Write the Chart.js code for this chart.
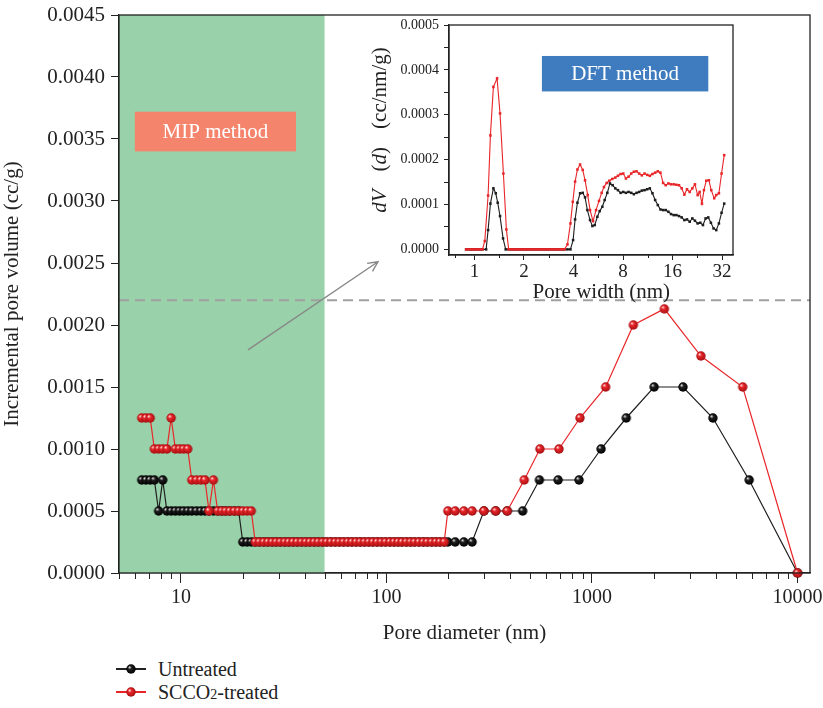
<!DOCTYPE html>
<html>
<head>
<meta charset="utf-8">
<script src="https://cdn.jsdelivr.net/npm/chart.js@4.4.1/dist/chart.umd.min.js"></script>
<style>
  body { margin: 0; background: #fff; font-family: 'Liberation Serif', serif; }
  #wrap { position: relative; width: 823px; height: 708px; overflow: hidden; }
  #main { position: absolute; left: 0; top: 0; }
  #inset { position: absolute; left: 360px; top: 0; }
  .leg { position: absolute; left: 116px; height: 22px; display: flex; align-items: center; font-size: 20px; color: #222; }
  .leg .sym { position: relative; width: 30px; height: 22px; margin-right: 12px; }
  .leg .sym i { position: absolute; left: 0; top: 10px; width: 30px; height: 1.5px; }
  .leg .sym canvas { position: absolute; left: 9px; top: 5px; }
</style>
</head>
<body>
<div id="wrap">
  <canvas id="main" width="823" height="650"></canvas>
  <canvas id="inset" width="390" height="312"></canvas>
  <div class="leg" id="leg1" style="top:658px"><div class="sym"><i style="background:#222"></i></div>Untreated</div>
  <div class="leg" id="leg2" style="top:681px"><div class="sym"><i style="background:#e8262a"></i></div>SCCO<sub style="font-size:14px;position:relative;top:3px">2</sub>-treated</div>
</div>
<script>
// MIP data: low-pressure points shared by both samples (nm)
const mipDiamLow = [6.45, 6.76, 7.09, 7.43, 7.79, 8.16, 8.55, 8.97, 9.40, 9.85, 10.3, 10.8, 11.3, 11.9, 12.5, 13.1,
  13.7, 14.4, 15.1, 15.8, 16.5, 17.3, 18.2, 19.1, 20.0, 21.0, 22.0, 23.0, 24.1, 25.3, 26.5, 27.8, 29.1, 30.5,
  32.0, 33.5, 35.1, 36.8, 38.6, 40.5, 42.4, 44.5, 46.6, 48.9, 51.2, 53.7, 56.3, 59.0, 61.8, 64.8, 67.9, 71.2,
  74.6, 78.2, 82.0, 85.9, 90.1, 94.4, 99.0, 104, 109, 114, 119, 125, 131, 137, 144, 151, 158, 166, 174, 182, 191];
const untreatedLow = [0.00075, 0.00075, 0.00075, 0.00075, 0.0005, 0.00075, 0.0005, 0.0005, 0.0005, 0.0005,
  0.0005, 0.0005, 0.0005, 0.0005, 0.0005, 0.0005, 0.0005, 0.0005, 0.0005, 0.0005, 0.0005, 0.0005, 0.0005, 0.0005,
  0.00025, 0.00025, 0.00025, 0.00025, 0.00025, 0.00025, 0.00025, 0.00025, 0.00025, 0.00025, 0.00025, 0.00025,
  0.00025, 0.00025, 0.00025, 0.00025, 0.00025, 0.00025, 0.00025, 0.00025, 0.00025, 0.00025, 0.00025, 0.00025,
  0.00025, 0.00025, 0.00025, 0.00025, 0.00025, 0.00025, 0.00025, 0.00025, 0.00025, 0.00025, 0.00025, 0.00025,
  0.00025, 0.00025, 0.00025, 0.00025, 0.00025, 0.00025, 0.00025, 0.00025, 0.00025, 0.00025, 0.00025, 0.00025, 0.00025];
const treatedLow = [0.00125, 0.00125, 0.00125, 0.001, 0.001, 0.001, 0.001, 0.00125, 0.001, 0.001, 0.001, 0.001,
  0.00075, 0.00075, 0.00075, 0.00075, 0.0005, 0.00075, 0.0005, 0.0005, 0.0005, 0.0005, 0.0005, 0.0005, 0.0005,
  0.0005, 0.0005, 0.00025, 0.00025, 0.00025, 0.00025, 0.00025, 0.00025, 0.00025, 0.00025, 0.00025, 0.00025,
  0.00025, 0.00025, 0.00025, 0.00025, 0.00025, 0.00025, 0.00025, 0.00025, 0.00025, 0.00025, 0.00025, 0.00025,
  0.00025, 0.00025, 0.00025, 0.00025, 0.00025, 0.00025, 0.00025, 0.00025, 0.00025, 0.00025, 0.00025, 0.00025,
  0.00025, 0.00025, 0.00025, 0.00025, 0.00025, 0.00025, 0.00025, 0.00025, 0.00025, 0.00025, 0.00025, 0.00025];
// high-pressure part
const untreatedHighDiam = [199, 216, 238, 261, 298, 340, 387, 460, 555, 684, 865, 1107, 1468, 2005, 2772, 3876, 5815, 10000];
const untreatedHighVol = [0.00025, 0.00025, 0.00025, 0.00025, 0.0005, 0.0005, 0.0005, 0.0005, 0.00075, 0.00075,
  0.00075, 0.001, 0.00125, 0.0015, 0.0015, 0.00125, 0.00075, 0];
const treatedHighDiam = [199, 216, 238, 261, 298, 340, 387, 468, 558, 691, 874, 1166, 1589, 2249, 3388, 5411, 10000];
const treatedHighVol = [0.0005, 0.0005, 0.0005, 0.0005, 0.0005, 0.0005, 0.0005, 0.00075, 0.001, 0.001, 0.00125,
  0.0015, 0.002, 0.00213, 0.00175, 0.0015, 0];

// DFT inset
const dftWidthTreated = [0.890, 0.920, 0.950, 0.982, 1.014, 1.048, 1.082, 1.118, 1.155, 1.210, 1.250, 1.303, 1.372,
  1.430, 1.499, 1.563, 1.614, 1.668, 1.723, 1.780, 1.839, 1.900, 1.963, 2.027, 2.094, 2.163, 2.235, 2.309, 2.385,
  2.464, 2.546, 2.630, 2.717, 2.807, 2.900, 2.996, 3.095, 3.197, 3.303, 3.412, 3.525, 3.676, 3.832, 3.959, 4.090,
  4.226, 4.386, 4.551, 4.702, 4.880, 5.042, 5.257, 5.482, 5.716, 5.933, 6.129, 6.361, 6.603, 6.884, 7.179, 7.451,
  7.733, 8.027, 8.330, 8.646, 8.975, 9.313, 9.667, 10.03, 10.41, 10.81, 11.22, 11.64, 12.08, 12.54, 13.02, 13.51,
  14.02, 14.55, 15.10, 15.67, 16.27, 16.89, 17.52, 18.19, 18.88, 19.59, 20.34, 21.11, 21.90, 22.74, 23.38, 24.15,
  24.83, 25.65, 26.62, 27.51, 28.68, 29.50, 30.62, 31.78, 32.98];
const dftVolTreated = [0, 0, 0, 0, 0, 0, 0, 0, 0.0000186, 0.000120, 0.000254, 0.000362, 0.000381, 0.000303,
  0.000169, 0.0000445, 0, 0, 0, 0, 0, 0, 0, 0, 0, 0, 0, 0, 0, 0, 0, 0, 0, 0, 0, 0, 0, 0, 0, 0, 0,
  0.0000111, 0.0000579, 0.000106, 0.000151, 0.000178, 0.000189, 0.000177, 0.000154, 0.000121, 0.0000876,
  0.0000631, 0.0000876, 0.000108, 0.000126, 0.000139, 0.000148, 0.000153, 0.000157, 0.000160, 0.000164,
  0.000168, 0.000169, 0.000158, 0.000162, 0.000169, 0.000173, 0.000174, 0.000169, 0.000165, 0.000169,
  0.000166, 0.000164, 0.000168, 0.000171, 0.000174, 0.000171, 0.000148, 0.000143, 0.000147, 0.000145,
  0.000145, 0.000144, 0.000143, 0.000136, 0.000122, 0.000134, 0.000128, 0.000136, 0.000145, 0.000121,
  0.000128, 0.000102, 0.000132, 0.000153, 0.000154, 0.000132, 0.000114, 0.000121, 0.000125, 0.000169, 0.000210];
const dftWidthUntreated = [0.890, 0.920, 0.950, 0.982, 1.014, 1.048, 1.082, 1.118, 1.177, 1.210, 1.250, 1.303,
  1.347, 1.384, 1.430, 1.492, 1.548, 1.614, 1.668, 1.723, 1.780, 1.839, 1.900, 1.963, 2.027, 2.094, 2.163, 2.235,
  2.309, 2.385, 2.464, 2.546, 2.630, 2.717, 2.807, 2.900, 2.996, 3.095, 3.197, 3.303, 3.412, 3.525, 3.676, 3.832,
  3.978, 4.090, 4.226, 4.386, 4.551, 4.702, 4.857, 5.042, 5.209, 5.382, 5.586, 5.769, 5.988, 6.187, 6.422, 6.663,
  6.916, 7.179, 7.451, 7.733, 8.027, 8.330, 8.646, 8.975, 9.313, 9.667, 10.03, 10.41, 10.81, 11.22, 11.64, 12.08,
  12.54, 13.02, 13.51, 14.02, 14.55, 15.10, 15.67, 16.27, 16.89, 17.52, 18.19, 18.88, 19.59, 20.34, 21.11, 21.90,
  22.74, 23.60, 24.49, 25.42, 26.38, 27.38, 28.42, 29.50, 30.62, 31.78, 32.98];
const dftVolUntreated = [0, 0, 0, 0, 0, 0, 0, 0, 0, 0.0000430, 0.000102, 0.000136, 0.000125, 0.000104, 0.0000742,
  0.0000245, 0, 0, 0, 0, 0, 0, 0, 0, 0, 0, 0, 0, 0, 0, 0, 0, 0, 0, 0, 0, 0, 0, 0, 0, 0, 0, 0, 0,
  0.0000208, 0.0000668, 0.000104, 0.000125, 0.000126, 0.000116, 0.0000876, 0.0000653, 0.0000520, 0.0000542,
  0.0000727, 0.0000853, 0.0000950, 0.000110, 0.000126, 0.000147, 0.000143, 0.000136, 0.000132, 0.000126,
  0.000128, 0.000126, 0.000128, 0.000126, 0.000123, 0.000126, 0.000128, 0.000131, 0.000132, 0.000134,
  0.000136, 0.000125, 0.000110, 0.0000987, 0.0000890, 0.0000876, 0.0000876, 0.0000838, 0.0000787, 0.0000764,
  0.0000764, 0.0000742, 0.0000712, 0.0000653, 0.0000668, 0.0000616, 0.0000690, 0.0000638, 0.0000579,
  0.0000594, 0.0000542, 0.0000690, 0.0000712, 0.0000594, 0.0000467, 0.0000430, 0.0000579, 0.0000816, 0.000102];

const mainYTicks = [0, 0.0005, 0.001, 0.0015, 0.002, 0.0025, 0.003, 0.0035, 0.004, 0.0045];
const mainXMajor = [10, 100, 1000, 10000];
const mainXMinor = [5, 6, 7, 8, 9, 20, 30, 40, 50, 60, 70, 80, 90, 200, 300, 400, 500, 600, 700, 800, 900,
  2000, 3000, 4000, 5000, 6000, 7000, 8000, 9000];
const insetXTicks = [1, 2, 4, 8, 16, 32];
const insetXMinor = [0.76, 1.414, 2.83, 5.66, 11.3, 22.6];
const insetYTicks = [0, 0.00005, 0.0001, 0.00015, 0.0002, 0.00025, 0.0003, 0.00035, 0.0004, 0.00045, 0.0005];

const FONT = 'Liberation Serif';
const INK = '#222';

function ball(base, light, dark, r) {
  const c = document.createElement('canvas');
  const s = Math.ceil(r * 2 + 2);
  c.width = c.height = s;
  const g = c.getContext('2d');
  const grad = g.createRadialGradient(s / 2 - r * 0.35, s / 2 - r * 0.4, 0.3, s / 2, s / 2, r);
  grad.addColorStop(0, light);
  grad.addColorStop(0.35, base);
  grad.addColorStop(1, dark);
  g.fillStyle = grad;
  g.beginPath();
  g.arc(s / 2, s / 2, r, 0, Math.PI * 2);
  g.fill();
  return c;
}
const blackBall = ball('#1e1e1e', '#d8d8d8', '#000', 4.7);
const redBall = ball('#e8262a', '#ffd6d6', '#a50f12', 4.7);
document.querySelector('#leg1 .sym').appendChild(ball('#1e1e1e', '#d8d8d8', '#000', 4.7));
document.querySelector('#leg2 .sym').appendChild(ball('#e8262a', '#ffd6d6', '#a50f12', 4.7));

function pts(xs, ys) { return xs.map((x, i) => ({ x: x, y: ys[i] })); }

const mainDecor = {
  id: 'mainDecor',
  beforeDatasetsDraw(chart) {
    const { ctx, chartArea: a, scales: { x, y } } = chart;
    ctx.save();
    // MIP region
    ctx.fillStyle = '#99d2aa';
    const gx = x.getPixelForValue(50);
    ctx.fillRect(a.left, a.top, gx - a.left, a.bottom - a.top);
    // MIP label
    const bx1 = x.getPixelForValue(5.97), bx2 = x.getPixelForValue(36.3);
    const by1 = y.getPixelForValue(0.00372), by2 = y.getPixelForValue(0.0034);
    ctx.fillStyle = '#f4846c';
    ctx.fillRect(bx1, by1, bx2 - bx1, by2 - by1);
    ctx.fillStyle = '#fff';
    ctx.font = '21px ' + FONT;
    ctx.textAlign = 'center';
    ctx.textBaseline = 'middle';
    ctx.fillText('MIP method', (bx1 + bx2) / 2, (by1 + by2) / 2 + 1);
    // dashed reference line
    ctx.strokeStyle = '#a0a0a0';
    ctx.lineWidth = 2;
    ctx.setLineDash([10, 6]);
    const dy = y.getPixelForValue(0.0022);
    ctx.beginPath();
    ctx.moveTo(a.left, dy);
    ctx.lineTo(a.right, dy);
    ctx.stroke();
    ctx.setLineDash([]);
    // arrow to inset
    const ax1 = x.getPixelForValue(21.2), ay1 = y.getPixelForValue(0.0018);
    const ax2 = x.getPixelForValue(91), ay2 = y.getPixelForValue(0.00251);
    ctx.strokeStyle = '#888';
    ctx.lineWidth = 1.4;
    ctx.beginPath();
    ctx.moveTo(ax1, ay1);
    ctx.lineTo(ax2, ay2);
    const ang = Math.atan2(ay2 - ay1, ax2 - ax1);
    ctx.moveTo(ax2 - 11 * Math.cos(ang - 0.45), ay2 - 11 * Math.sin(ang - 0.45));
    ctx.lineTo(ax2, ay2);
    ctx.lineTo(ax2 - 11 * Math.cos(ang + 0.45), ay2 - 11 * Math.sin(ang + 0.45));
    ctx.stroke();
    ctx.restore();
  },
  afterDraw(chart) {
    const { ctx, chartArea: a, scales: { x } } = chart;
    ctx.save();
    ctx.strokeStyle = INK;
    ctx.lineWidth = 1.3;
    ctx.strokeRect(a.left, a.top, a.right - a.left, a.bottom - a.top);
    ctx.beginPath();
    mainXMinor.forEach(v => {
      const px = Math.round(x.getPixelForValue(v)) + 0.5;
      ctx.moveTo(px, a.bottom);
      ctx.lineTo(px, a.bottom + 6);
    });
    ctx.lineWidth = 1;
    ctx.stroke();
    ctx.restore();
  }
};

new Chart(document.getElementById('main'), {
  type: 'line',
  data: {
    datasets: [
      {
        label: 'Untreated',
        data: pts(mipDiamLow.concat(untreatedHighDiam), untreatedLow.concat(untreatedHighVol)),
        borderColor: '#1e1e1e', borderWidth: 1.2, pointStyle: blackBall, pointRadius: 4.5,
        order: 2, clip: false
      },
      {
        label: 'SCCO2-treated',
        data: pts(mipDiamLow.concat(treatedHighDiam), treatedLow.concat(treatedHighVol)),
        borderColor: '#e8262a', borderWidth: 1.2, pointStyle: redBall, pointRadius: 4.5,
        order: 1, clip: false
      }
    ]
  },
  options: {
    responsive: false,
    animation: false,
    layout: { padding: { top: 15, right: 13, left: 0, bottom: 0 } },
    plugins: { legend: { display: false }, tooltip: { enabled: false } },
    scales: {
      x: {
        type: 'logarithmic', min: 5, max: 11500,
        afterBuildTicks: s => { s.ticks = mainXMajor.map(v => ({ value: v })); },
        afterFit: s => { s.height = 77; s.paddingLeft = 0; s.paddingRight = 0; },
        ticks: { callback: v => String(v), font: { family: FONT, size: 20 }, color: INK, maxRotation: 0, autoSkip: false, padding: 3 },
        grid: { drawOnChartArea: false, tickLength: 10, tickColor: INK, tickWidth: 1 },
        border: { color: INK, width: 1.3 },
        title: { display: true, text: 'Pore diameter (nm)', font: { family: FONT, size: 21 }, color: INK, padding: { top: 0, bottom: 4 } }
      },
      y: {
        min: 0, max: 0.0045,
        afterBuildTicks: s => { s.ticks = mainYTicks.map(v => ({ value: v })); },
        afterFit: s => { s.width = 119; s.paddingTop = 0; s.paddingBottom = 0; },
        ticks: { callback: v => v.toFixed(4), font: { family: FONT, size: 21 }, color: INK, padding: 6 },
        grid: { drawOnChartArea: false, tickLength: 8, tickColor: INK },
        border: { color: INK, width: 1.3 },
        title: { display: true, text: 'Incremental pore volume (cc/g)', font: { family: FONT, size: 21 }, color: INK, padding: { top: 0, bottom: 0 } }
      }
    }
  },
  plugins: [mainDecor]
});

const insetDecor = {
  id: 'insetDecor',
  beforeDatasetsDraw(chart) {
    const { ctx, scales: { x, y } } = chart;
    const bx1 = x.getPixelForValue(2.57), bx2 = x.getPixelForValue(26.4);
    const by1 = y.getPixelForValue(0.000431), by2 = y.getPixelForValue(0.000352);
    ctx.save();
    ctx.fillStyle = '#3f7cbf';
    ctx.fillRect(bx1, by1, bx2 - bx1, by2 - by1);
    ctx.fillStyle = '#fff';
    ctx.font = '21px ' + FONT;
    ctx.textAlign = 'center';
    ctx.textBaseline = 'middle';
    ctx.fillText('DFT method', (bx1 + bx2) / 2, (by1 + by2) / 2 + 1);
    ctx.restore();
  },
  afterDraw(chart) {
    const { ctx, chartArea: a, scales: { x } } = chart;
    ctx.save();
    ctx.strokeStyle = INK;
    ctx.lineWidth = 1.3;
    ctx.strokeRect(a.left, a.top, a.right - a.left, a.bottom - a.top);
    ctx.lineWidth = 1;
    ctx.beginPath();
    insetXMinor.forEach(v => {
      const px = Math.round(x.getPixelForValue(v)) + 0.5;
      ctx.moveTo(px, a.bottom);
      ctx.lineTo(px, a.bottom + 3);
    });
    ctx.stroke();
    ctx.fillStyle = INK;
    // x title, sits a little right of centre as in the source figure
    ctx.font = '21px ' + FONT;
    ctx.textAlign = 'center';
    ctx.textBaseline = 'middle';
    ctx.fillText('Pore width (nm)', x.getPixelForValue(5.9), 292);
    // y title with italic parts
    const parts = [['dV', 'italic ', 18], ['(', '', 0], ['d', 'italic ', 0], [')', '', 18], ['(cc/nm/g)', '', 0]];
    ctx.translate(20, 130);
    ctx.rotate(-Math.PI / 2);
    ctx.textAlign = 'left';
    let total = 0;
    parts.forEach(p => { ctx.font = p[1] + '21px ' + FONT; total += ctx.measureText(p[0]).width + p[2]; });
    let cx = -total / 2;
    parts.forEach(p => {
      ctx.font = p[1] + '21px ' + FONT;
      ctx.fillText(p[0], cx, 0);
      cx += ctx.measureText(p[0]).width + p[2];
    });
    ctx.restore();
  }
};

new Chart(document.getElementById('inset'), {
  type: 'line',
  data: {
    datasets: [
      {
        label: 'Untreated',
        data: pts(dftWidthUntreated, dftVolUntreated),
        borderColor: '#1e1e1e', backgroundColor: '#1e1e1e', borderWidth: 1.1,
        pointStyle: 'rect', pointRadius: 1.8, pointBorderWidth: 0, order: 2
      },
      {
        label: 'SCCO2-treated',
        data: pts(dftWidthTreated, dftVolTreated),
        borderColor: '#e8262a', backgroundColor: '#e8262a', borderWidth: 1.1,
        pointStyle: 'rect', pointRadius: 1.8, pointBorderWidth: 0, order: 1
      }
    ]
  },
  options: {
    responsive: false,
    animation: false,
    layout: { padding: { top: 25, right: 17, left: 0, bottom: 0 } },
    plugins: { legend: { display: false }, tooltip: { enabled: false } },
    scales: {
      x: {
        type: 'logarithmic', min: 0.712, max: 37.3,
        afterBuildTicks: s => { s.ticks = insetXTicks.map(v => ({ value: v })); },
        afterFit: s => { s.height = 57; s.paddingLeft = 0; s.paddingRight = 0; },
        ticks: { callback: v => String(v), font: { family: FONT, size: 19 }, color: INK, maxRotation: 0, autoSkip: false, padding: 1 },
        grid: { drawOnChartArea: false, tickLength: 5, tickColor: INK },
        border: { color: INK, width: 1.3 },
        title: { display: false }
      },
      y: {
        min: -0.0000125, max: 0.0005,
        afterBuildTicks: s => { s.ticks = insetYTicks.map(v => ({ value: v })); },
        afterFit: s => { s.width = 89; s.paddingTop = 0; s.paddingBottom = 0; },
        ticks: {
          callback: (v, i) => (i % 2 === 0 ? v.toFixed(4) : ''),
          font: { family: FONT, size: 14 }, color: INK, padding: 5, autoSkip: false
        },
        grid: { drawOnChartArea: false, tickLength: 5, tickColor: INK },
        border: { color: INK, width: 1.3 },
        title: { display: false }
      }
    }
  },
  plugins: [insetDecor]
});
</script>
</body>
</html>
